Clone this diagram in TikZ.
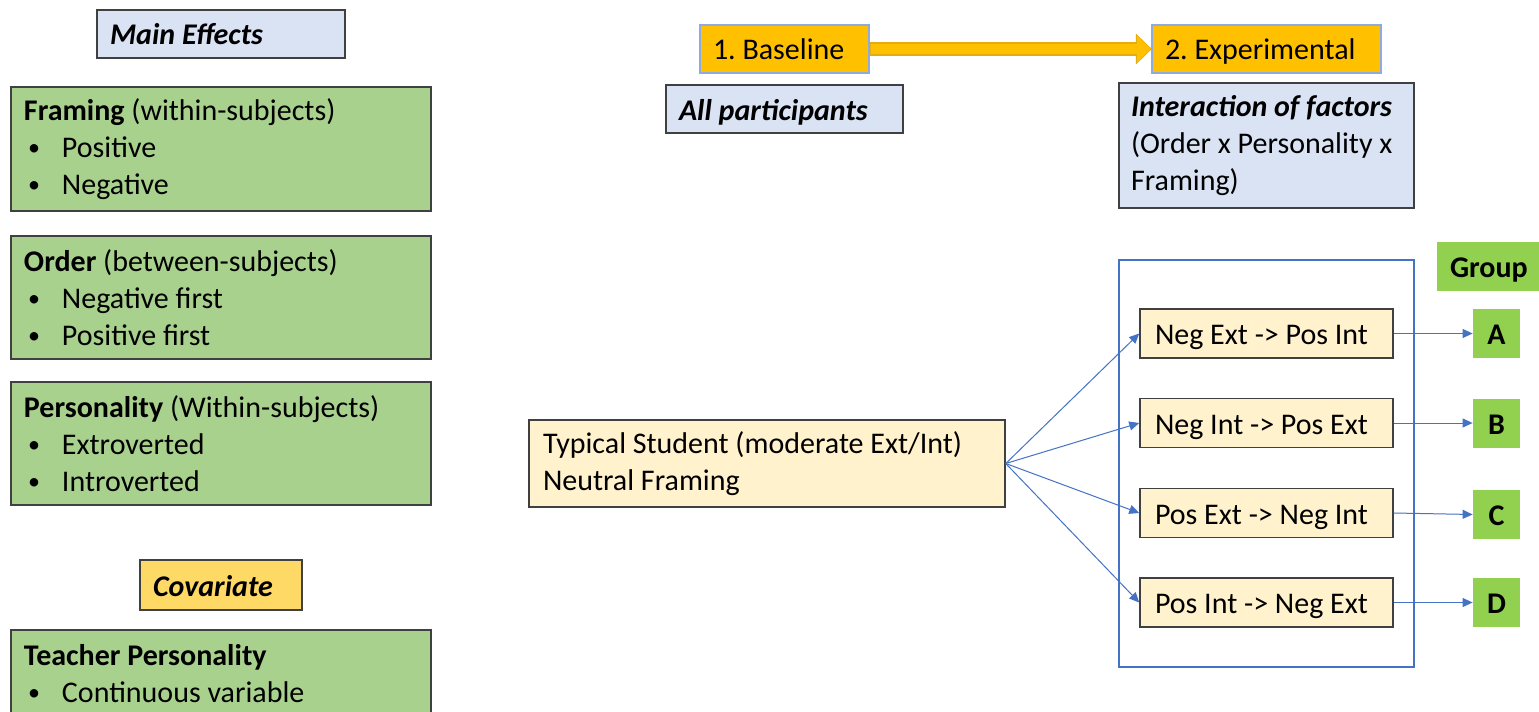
\documentclass[tikz,border=0pt]{standalone}
\usepackage{fontspec}
\setmainfont{Carlito}
\usetikzlibrary{arrows.meta}
\definecolor{lblue}{HTML}{DAE3F3}
\definecolor{lgreen}{HTML}{A9D18E}
\definecolor{gold}{HTML}{FFD966}
\definecolor{orng}{HTML}{FFC000}
\definecolor{orngd}{HTML}{E3AC10}
\definecolor{lyel}{HTML}{FFF2CC}
\definecolor{bgreen}{HTML}{92D050}
\definecolor{cblue}{HTML}{4472C4}
\definecolor{bord}{HTML}{404040}
\definecolor{obord}{HTML}{8FAADC}
\newcommand{\bitem}[1]{\hspace*{2pt}\makebox[17pt][l]{\raisebox{0.1ex}{\scalebox{0.8}{\textbullet}}}#1}
\newcommand{\fnt}{\fontsize{15pt}{18.5pt}\selectfont\frenchspacing}
\tikzset{
  box/.style={draw=bord, line width=0.75pt, inner xsep=6.5pt, inner ysep=0pt, align=flush left},
  one/.style={text height=12pt, text depth=1pt},
  tagbox/.style={box, fill=lblue},
  grbox/.style={box, fill=lgreen, text width=197pt},
  ylbox/.style={box, fill=lyel},
  obox/.style={box, fill=orng, draw=obord, one},
  letter/.style={fill=bgreen, inner sep=0pt, font={\fnt\bfseries}, minimum width=23.5pt, minimum height=24.5pt, one},
  conn/.style={draw=cblue, line width=0.5pt, -{Triangle[length=5pt,width=4.5pt]}},
}
\begin{document}
\begin{tikzpicture}[x=0.5pt,y=-0.5pt,font=\fnt]
\useasboundingbox (0,0) rectangle (1539,712);
\clip (0,0) rectangle (1539,712);
\fill[white] (0,0) rectangle (1539,712);

% left column
\node[tagbox, one, text width=111pt, minimum height=24pt] (main) at (221,34) {\textbf{\textit{Main Effects}}};
\node[grbox, minimum height=62pt] (framing) at (221,149) {\textbf{Framing} (within-subjects)\\\bitem{Positive}\\\bitem{Negative}};
\node[grbox, minimum height=61.5pt] (order) at (221,297.5) {\textbf{Order} (between-subjects)\\\bitem{Negative first}\\\bitem{Positive first}};
\node[grbox, minimum height=61.5pt] (pers) at (221,443.5) {\textbf{Personality} (Within-subjects)\\\bitem{Extroverted}\\\bitem{Introverted}};
\node[box, one, fill=gold, text width=68pt, minimum height=25pt] (cov) at (221,585) {\textbf{\textit{Covariate}}};
\node[grbox, minimum height=43.5pt] (teach) at (221,673.5) {\textbf{Teacher Personality}\\\bitem{Continuous variable}};

% top
\node[obox, text width=71.5pt, minimum height=24pt] (base) at (784.5,49) {1. Baseline};
\node[obox, text width=101.5pt, minimum height=24pt] (exp) at (1266.5,49) {2. Experimental};
\draw[draw=orngd, line width=6.6pt, -{Triangle[width=15pt,length=8pt]}] (base.east) -- ([xshift=0.3pt]exp.west);
\draw[draw=orng, line width=5.4pt, -{Triangle[width=13pt,length=6.8pt]}, shorten >=0.6pt] ([xshift=0.5pt]base.east) -- ([xshift=0.3pt]exp.west);
\node[tagbox, one, text width=105.5pt, minimum height=24pt] (all) at (784.5,109) {\textbf{\textit{All participants}}};
\node[tagbox, inner xsep=6pt, text width=135.5pt, minimum height=62.5pt] (inter) at (1266.5,145.5) {\textbf{\textit{Interaction of factors}}\\(Order x Personality x\\Framing)};

% right
\node[ylbox, inner xsep=7pt, text width=224pt, minimum height=43.5pt] (typ) at (767,463.5) {Typical Student (moderate Ext/Int)\\Neutral Framing};
\node[draw=cblue, line width=0.8pt, minimum width=147.5pt, minimum height=203.5pt, inner sep=0pt] (frame) at (1266.5,463.5) {};
\node[ylbox, one, inner xsep=7.5pt, text width=111.5pt, minimum height=24.5pt] (c1) at (1266.5,333.5) {Neg Ext -> Pos Int};
\node[ylbox, one, inner xsep=7.5pt, text width=111.5pt, minimum height=24.5pt] (c2) at (1266.5,423) {Neg Int -> Pos Ext};
\node[ylbox, one, inner xsep=7.5pt, text width=111.5pt, minimum height=24.5pt] (c3) at (1266.5,513) {Pos Ext -> Neg Int};
\node[ylbox, one, inner xsep=7.5pt, text width=111.5pt, minimum height=24.5pt] (c4) at (1266.5,602.5) {Pos Int -> Neg Ext};

\node[fill=bgreen, one, inner xsep=6.5pt, inner ysep=0pt, text width=38pt, minimum height=24.5pt, font={\fnt\bfseries}, align=flush left] (grp) at (1488,266.5) {Group};
\node[letter] (A) at (1496.5,333.5) {A};
\node[letter] (B) at (1496.5,423) {B};
\node[letter] (C) at (1496.5,514.5) {C};
\node[letter] (D) at (1496.5,602.5) {D};

\foreach \c in {c1,c2,c3,c4} \draw[conn] (typ.east) -- (\c.west);
\draw[conn] (c1.east) -- (A.west);
\draw[conn] (c2.east) -- (B.west);
\draw[conn] (c3.east) -- (C.west);
\draw[conn] (c4.east) -- (D.west);
\end{tikzpicture}
\end{document}
